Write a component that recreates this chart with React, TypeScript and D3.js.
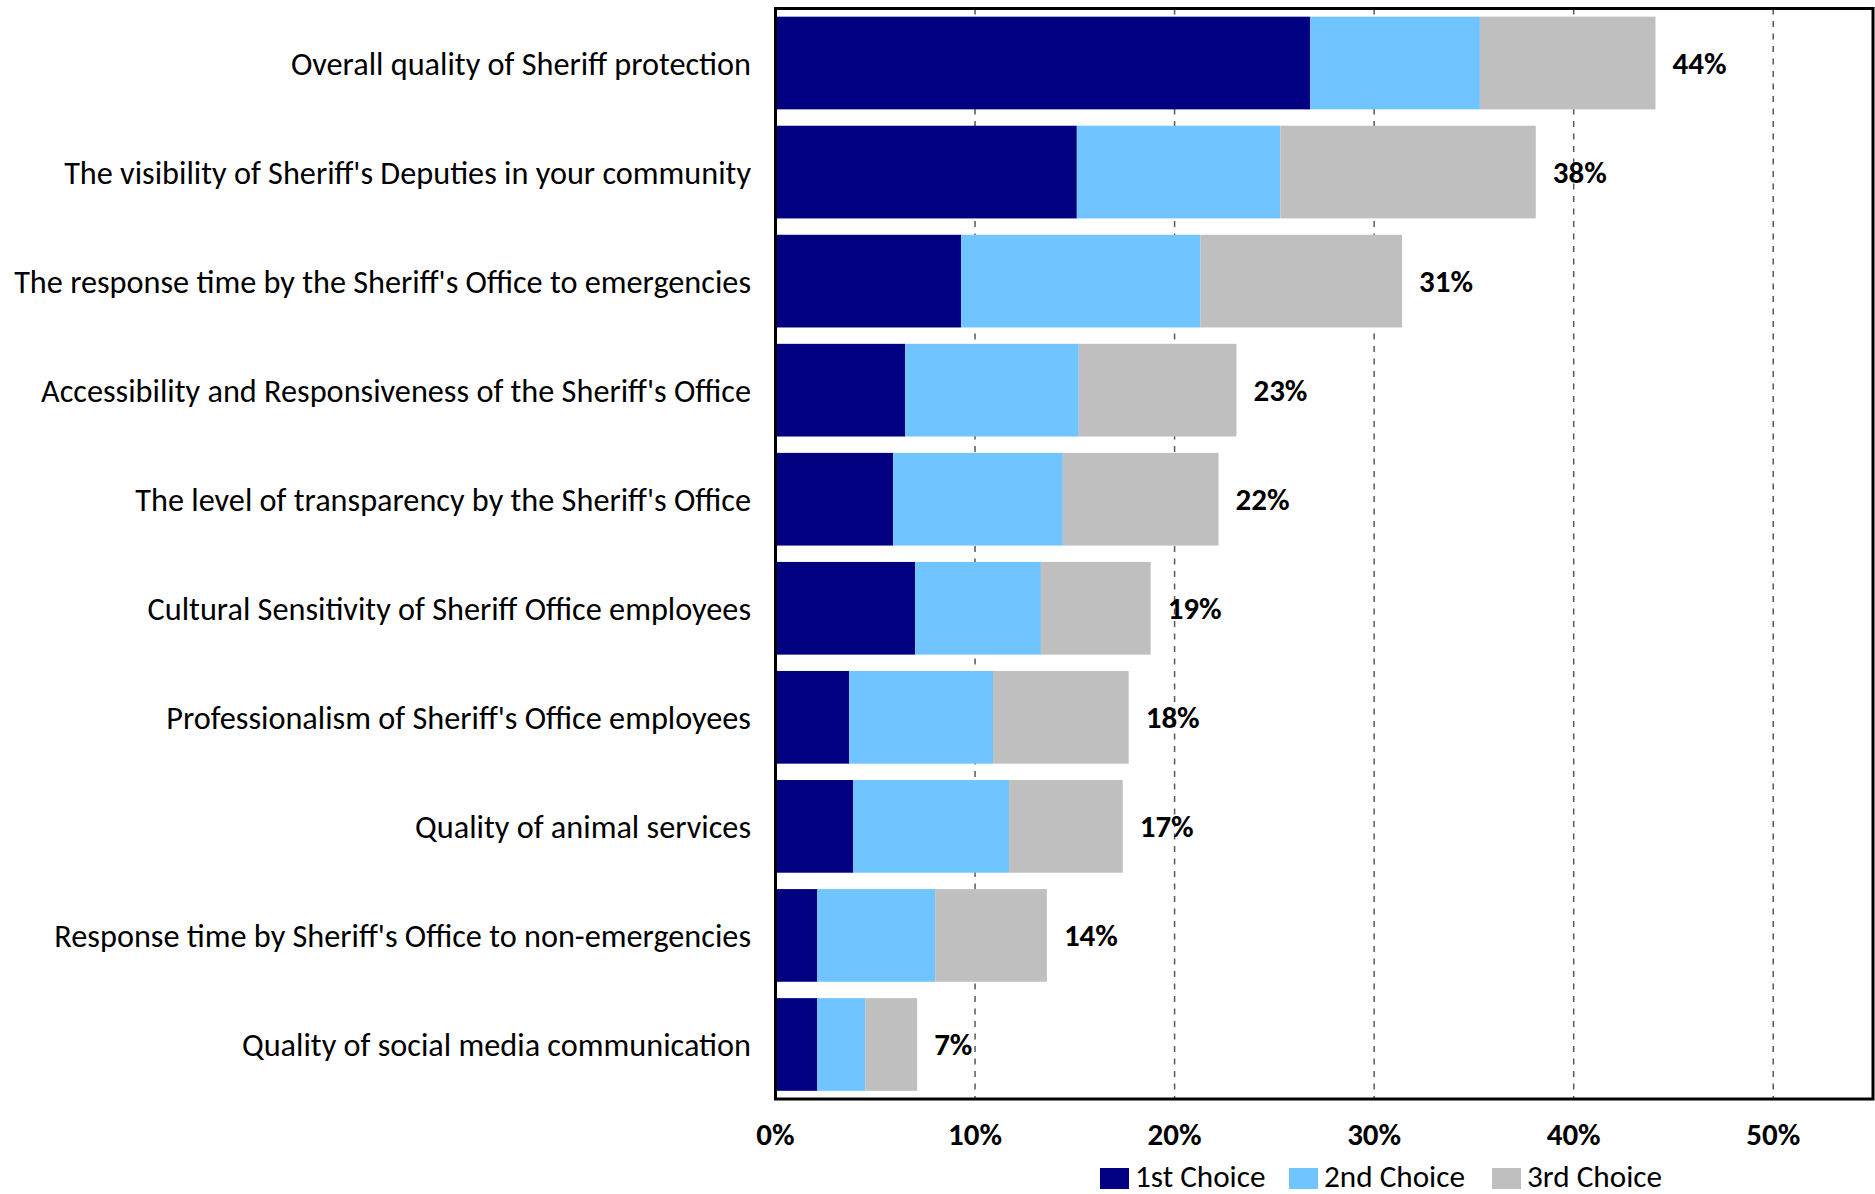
import React, { useEffect, useRef } from "react";
import * as d3 from "d3";

const categories = [
  "Overall quality of Sheriff protection",
  "The visibility of Sheriff's Deputies in your community",
  "The response time by the Sheriff's Office to emergencies",
  "Accessibility and Responsiveness of the Sheriff's Office",
  "The level of transparency by the Sheriff's Office",
  "Cultural Sensitivity of Sheriff Office employees",
  "Professionalism of Sheriff's Office employees",
  "Quality of animal services",
  "Response time by Sheriff's Office to non-emergencies",
  "Quality of social media communication",
];

const firstChoice = [26.8, 15.1, 9.3, 6.5, 5.9, 7.0, 3.7, 3.9, 2.1, 2.1];
const secondChoice = [8.5, 10.2, 12.0, 8.7, 8.5, 6.3, 7.2, 7.8, 5.9, 2.4];
const thirdChoice = [8.8, 12.8, 10.1, 7.9, 7.8, 5.5, 6.8, 5.7, 5.6, 2.6];

const seriesNames = ["1st Choice", "2nd Choice", "3rd Choice"];
const seriesColors = ["#000080", "#70C4FF", "#BFBFBF"];
const xTicks = [0, 10, 20, 30, 40, 50];

const FONT = "Carlito, Calibri, Lato, sans-serif";

export default function App() {
  const ref = useRef<SVGSVGElement | null>(null);

  useEffect(() => {
    const svg = d3.select(ref.current);
    svg.selectAll("*").remove();

    const left = 775.5;
    const right = 1873;
    const top = 8.5;
    const bottom = 1099;

    const x = d3.scaleLinear().domain([0, 55]).range([left, right]);
    const y = d3
      .scaleBand<string>()
      .domain(categories)
      .range([top, bottom])
      .paddingInner(0.15)
      .paddingOuter(0.075);

    const rows = categories.map((c, i) => ({
      cat: c,
      v: [firstChoice[i], secondChoice[i], thirdChoice[i]],
    }));

    const probe = svg
      .append("text")
      .attr("font-family", FONT)
      .attr("font-size", 30)
      .text(categories[2]);
    const w = (probe.node() as SVGTextElement).getComputedTextLength();
    probe.remove();
    const labelSize = (30 * 737) / w;

    const probe2 = svg
      .append("text")
      .attr("font-family", FONT)
      .attr("font-weight", "bold")
      .attr("font-size", 30)
      .text("23%");
    const w2 = (probe2.node() as SVGTextElement).getComputedTextLength();
    probe2.remove();
    const boldSize = (30 * 54) / w2;

    const probe3 = svg
      .append("text")
      .attr("font-family", FONT)
      .attr("font-size", 30)
      .text("2nd Choice");
    const w3 = (probe3.node() as SVGTextElement).getComputedTextLength();
    probe3.remove();
    const legendSize = (30 * 141) / w3;

    // gridlines
    svg
      .append("g")
      .selectAll("line")
      .data(xTicks.filter((t) => t > 0))
      .join("line")
      .attr("x1", (d) => x(d))
      .attr("x2", (d) => x(d))
      .attr("y1", top)
      .attr("y2", bottom)
      .attr("stroke", "#595959")
      .attr("stroke-width", 1.5)
      .attr("stroke-dasharray", "6,6.5");

    // bars
    const stack = d3
      .stack<{ cat: string; v: number[] }, number>()
      .keys([0, 1, 2])
      .value((d, k) => d.v[k]);
    const stacked = stack(rows);

    svg
      .append("g")
      .selectAll("g")
      .data(stacked)
      .join("g")
      .attr("fill", (_, i) => seriesColors[i])
      .selectAll("rect")
      .data((s) => s.map((p) => ({ p, cat: p.data.cat })))
      .join("rect")
      .attr("x", (d) => x(d.p[0]))
      .attr("width", (d) => x(d.p[1]) - x(d.p[0]))
      .attr("y", (d) => y(d.cat)!)
      .attr("height", y.bandwidth());

    // value labels
    svg
      .append("g")
      .selectAll("text")
      .data(rows)
      .join("text")
      .attr("x", (d) => x(d3.sum(d.v)) + 17)
      .attr("y", (d) => y(d.cat)! + y.bandwidth() / 2)
      .attr("dy", "0.35em")
      .attr("font-family", FONT)
      .attr("font-weight", "bold")
      .attr("font-size", boldSize)
      .attr("fill", "#000")
      .text((d) => Math.round(d3.sum(d.v)) + "%");

    // category labels
    svg
      .append("g")
      .selectAll("text")
      .data(categories)
      .join("text")
      .attr("x", 751)
      .attr("y", (d) => y(d)! + y.bandwidth() / 2)
      .attr("dy", "0.37em")
      .attr("text-anchor", "end")
      .attr("font-family", FONT)
      .attr("font-size", labelSize)
      .attr("fill", "#000")
      .text((d) => d);

    // plot border
    svg
      .append("rect")
      .attr("x", left)
      .attr("y", top)
      .attr("width", right - left)
      .attr("height", bottom - top)
      .attr("fill", "none")
      .attr("stroke", "#000")
      .attr("stroke-width", 3);

    // x tick labels
    svg
      .append("g")
      .selectAll("text")
      .data(xTicks)
      .join("text")
      .attr("x", (d) => x(d))
      .attr("y", 1145)
      .attr("text-anchor", "middle")
      .attr("font-family", FONT)
      .attr("font-weight", "bold")
      .attr("font-size", boldSize)
      .attr("fill", "#000")
      .text((d) => d + "%");

    // legend
    const legendX = [1100, 1289, 1492];
    const lg = svg
      .append("g")
      .selectAll("g")
      .data(seriesNames)
      .join("g")
      .attr("transform", (_, i) => `translate(${legendX[i]},0)`);
    lg.append("rect")
      .attr("x", 0)
      .attr("y", 1168)
      .attr("width", 29)
      .attr("height", 21)
      .attr("fill", (_, i) => seriesColors[i]);
    lg.append("text")
      .attr("x", 35)
      .attr("y", 1187)
      .attr("font-family", FONT)
      .attr("font-size", legendSize)
      .attr("fill", "#000")
      .text((d) => d);
  }, []);

  return (
    <svg
      ref={ref}
      width={1875}
      height={1194}
      style={{ position: "absolute", left: 0, top: 0, background: "#fff" }}
    />
  );
}
